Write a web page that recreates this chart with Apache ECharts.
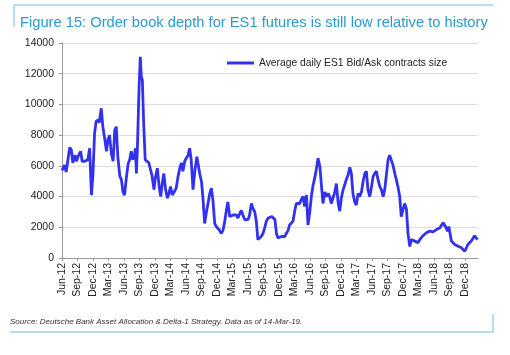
<!DOCTYPE html>
<html><head><meta charset="utf-8">
<script src="https://cdn.jsdelivr.net/npm/echarts@6/dist/echarts.min.js"></script>
<style>html,body{margin:0;padding:0;background:#fff}#c{width:510px;height:355px}</style>
</head><body><div id="c"></div>
<script>
// Month offset from Jun-2012 (0 = Jun-12)
var monthOffset = [0,0.5,0.8,1.5,1.8,2.1,2.5,2.8,3.1,3.6,3.9,4.4,5.0,5.35,5.7,6.0,6.3,6.6,7.0,7.2,7.6,7.9,8.3,8.6,8.9,9.2,9.55,9.9,10.2,10.5,10.8,11.2,11.5,11.8,12.1,12.45,12.8,
13.1,13.4,13.7,14.05,14.2,14.4,14.6,14.9,15.15,15.35,15.55,15.8,16.1,16.45,16.8,17.2,17.4,17.8,18.05,18.45,18.8,19.1,19.4,19.7,20.05,20.4,20.7,21.0,21.35,21.7,22.1,22.45,22.8,23.1,23.4,23.75,24.05,24.4,24.7,25.0,25.35,25.7,26.1,26.4,
26.65,27.0,27.3,27.6,27.9,28.25,28.6,28.9,29.2,29.55,29.85,30.2,30.5,30.8,31.15,31.5,31.8,32.1,32.45,32.8,33.1,33.4,33.75,34.05,34.4,34.7,35.0,35.35,35.7,36.0,36.3,36.65,37.0,37.3,37.6,37.9,38.25,38.55,38.9,39.2,39.55,39.9,
40.2,40.6,40.9,41.2,41.5,41.8,42.1,42.45,42.8,43.1,43.4,43.75,44.05,44.4,44.7,45.05,45.35,45.65,46.0,46.3,46.65,46.95,47.3,47.6,47.95,48.25,48.6,48.9,49.2,49.55,49.9,50.2,50.5,50.85,51.15,51.5,51.8,52.1,52.45,52.8,53.1,53.45,
53.75,54.05,54.4,54.7,55.0,55.35,55.7,56.0,56.3,56.65,56.95,57.3,57.6,57.95,58.25,58.6,58.9,59.2,59.55,59.85,60.2,60.5,60.85,61.15,61.5,61.8,62.15,62.45,62.8,63.1,63.4,63.75,64.05,64.4,64.7,65.0,65.35,65.65,66.0,66.3,66.65,66.95,67.3,
67.6,67.95,68.25,68.9,69.25,69.85,70.5,71.15,71.8,72.45,73.1,73.75,74.2,74.6,74.85,75.35,76.0,76.65,77.3,77.95,78.55,79.2,79.85,80.4];
var contracts = [5700,6050,5600,7200,7050,6200,6700,6300,6600,6950,6300,6300,6400,7150,4100,5500,8100,8900,9000,8800,9750,8550,7700,6950,7700,8000,6800,6300,8300,8550,6600,5300,5100,4300,4100,5200,6150,
6400,6950,6400,6800,7150,5500,7250,10950,13100,11800,11600,8800,6400,6300,6200,5650,5400,4450,5200,5850,4650,4000,4850,5500,4450,3900,4200,4650,4100,4300,4550,5300,5850,6200,5650,6300,6500,6700,7150,6400,4450,5650,6600,6500,
5500,4950,3800,2250,2900,3550,4200,4550,3800,2250,2050,2050,1800,1600,1800,2400,3100,3650,2700,2600,2800,2700,2800,2600,2900,3100,2800,2500,2400,2500,2800,3550,3200,3000,2400,1200,1300,1400,1600,1950,2400,2600,
2650,2700,2650,2500,1600,1300,1400,1400,1500,1400,1600,1800,2150,2150,2400,3100,3550,3650,3550,3800,4000,3350,4100,2150,3000,4000,4750,5200,5750,6500,5950,4750,3550,4300,4000,4200,4000,3550,3650,4300,4850,3550,
3050,3900,4450,4750,5100,5400,5900,5500,4200,3650,3450,4200,4000,4300,4950,5500,5650,4450,4000,4550,5300,5500,5650,5100,4650,4450,4000,4450,5500,6400,6700,6600,6050,5500,5100,4650,4000,2700,2800,3550,3200,1600,750,
1200,1300,1100,1000,1200,1450,1650,1750,1700,1850,1950,2300,2050,1750,2050,1100,880,770,660,440,880,1100,1450,1200];
var tickLabels = ["Jun-12","Sep-12","Dec-12","Mar-13","Jun-13","Sep-13","Dec-13","Mar-14","Jun-14","Sep-14","Dec-14","Mar-15","Jun-15","Sep-15","Dec-15","Mar-16","Jun-16","Sep-16","Dec-16","Mar-17","Jun-17","Sep-17","Dec-17","Mar-18","Jun-18","Sep-18","Dec-18"];
var seriesName = "Average daily ES1 Bid/Ask contracts size";

var pts = monthOffset.map(function(m,i){return [m, contracts[i]];});
var chart = echarts.init(document.getElementById('c'), null, {renderer:'canvas'});
var blue = '#6db9db';
chart.setOption({
  animation:false,
  backgroundColor:'#fff',
  textStyle:{fontFamily:'Liberation Sans, Arial, sans-serif'},
  title:{text:'Figure 15: Order book depth for ES1 futures is still low relative to history',
    left:15, top:10, textStyle:{color:'#2b9ad0', fontSize:14.7, fontWeight:'normal', fontFamily:'Liberation Sans, Arial, sans-serif'}},
  legend:{show:true, left:222, top:53, itemWidth:27, itemHeight:3, icon:'rect', itemGap:4,
    textStyle:{fontSize:10.3, color:'#222'}, data:[seriesName]},
  grid:{left:62, right:32, top:43, bottom:97},
  xAxis:{type:'value', min:0, max:80.5, interval:3,
    axisLine:{show:true, lineStyle:{color:'#999'}},
    axisTick:{show:true, length:3, lineStyle:{color:'#999'}},
    splitLine:{show:false},
    axisLabel:{rotate:90, fontSize:10.5, color:'#222', margin:5, showMaxLabel:false,
      formatter:function(v){var k=Math.round(v/3); return (Math.abs(v-k*3)<1e-6 && tickLabels[k])?tickLabels[k]:'';}}},
  yAxis:{type:'value', min:0, max:14000, interval:2000,
    axisLine:{show:true, lineStyle:{color:'#999'}},
    axisTick:{show:true, length:3, lineStyle:{color:'#999'}},
    splitLine:{show:true, lineStyle:{color:'#dcdce8', width:1}},
    axisLabel:{fontSize:10.5, color:'#222', margin:8, formatter:function(v){return String(v);}}},
  series:[{name:seriesName, type:'line', data:pts, showSymbol:false, symbol:'none',
    lineStyle:{color:'#3232ee', width:2.8}, itemStyle:{color:'#3232ee'}}],
  graphic:[
    {type:'line', shape:{x1:14,y1:5,x2:493,y2:5}, style:{stroke:blue, lineWidth:1}},
    {type:'line', shape:{x1:14,y1:5,x2:14,y2:27}, style:{stroke:blue, lineWidth:1}},
    {type:'line', shape:{x1:10,y1:332,x2:493,y2:332}, style:{stroke:blue, lineWidth:1}},
    {type:'line', shape:{x1:493,y1:314,x2:493,y2:332}, style:{stroke:blue, lineWidth:1}},
    {type:'text', left:10, top:318, style:{text:'Source: Deutsche Bank Asset Allocation & Delta-1 Strategy. Data as of 14-Mar-19.',
      fontSize:8, fontStyle:'italic', fill:'#333', fontFamily:'Liberation Sans, Arial, sans-serif'}}
  ]
});
</script></body></html>
